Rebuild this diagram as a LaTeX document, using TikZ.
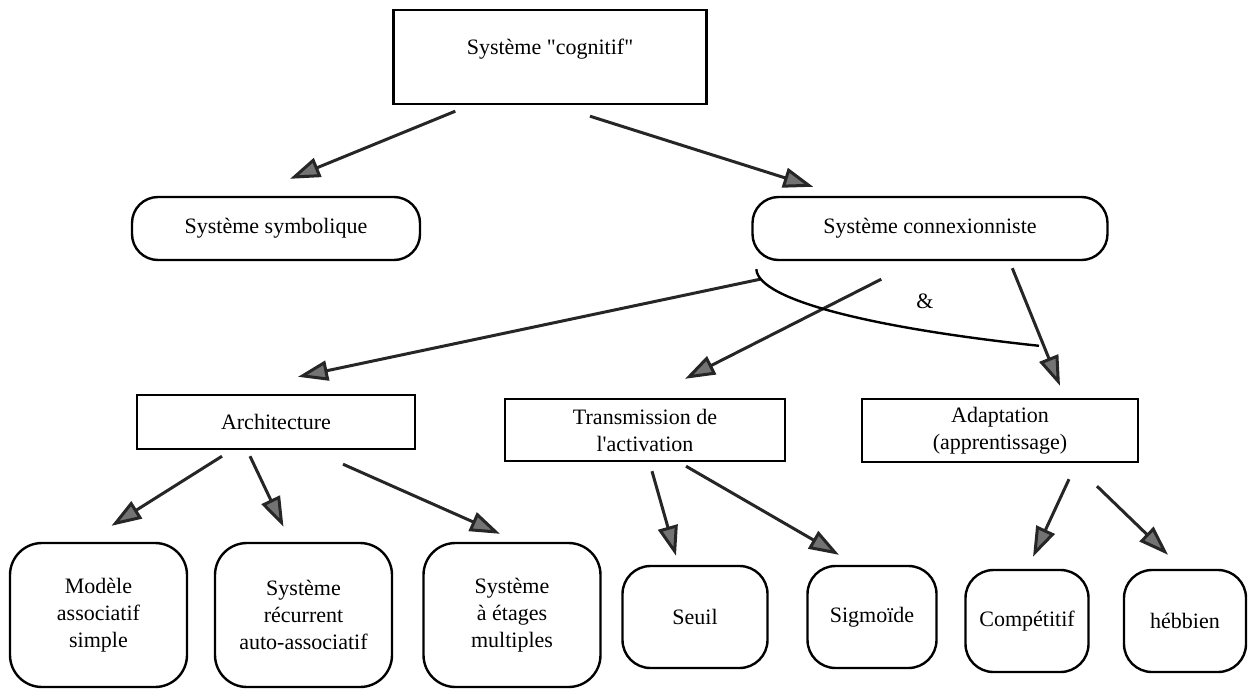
\documentclass[tikz,border=0pt]{standalone}
\usepackage{fontspec}
\setmainfont{Liberation Serif}
\usetikzlibrary{positioning,calc,arrows.meta}
\tikzset{
	box/.style={draw, line width=1.2pt, align=center, inner sep=2pt},
	roundbox/.style={box, rounded corners=13pt},
	bigbox/.style={box, rounded corners=16pt, minimum width=88.5pt, minimum height=72pt},
	leaf/.style={box, rounded corners=14pt, minimum height=51pt},
	arr/.style={line width=1.5pt, draw=black!85, -{Triangle[length=15pt,width=10pt,fill=black!55]}},
}
\begin{document}
\begin{tikzpicture}[x=0.5pt, y=-0.5pt, font=\fontsize{11}{13.5}\selectfont]
	\useasboundingbox (0,0) rectangle (1252,691);
	% niveaux
	\node[box, minimum width=156.5pt, minimum height=47pt, text depth=10pt] (cog) at (550,57) {Système \textquotedbl cognitif\textquotedbl};
	\node[roundbox, minimum width=144pt, minimum height=31.5pt] (sym) at (276,228.5) {Système symbolique};
	\node[roundbox, minimum width=177.5pt, minimum height=31.5pt] (con) at (930,228.5) {Système connexionniste};
	
	\node[box, minimum width=139pt, minimum height=27pt] (arch) at (276,422) {Architecture};
	\node[box, minimum width=140pt, minimum height=31pt] (trans) at (645,430) {Transmission de\\l\textquotesingle activation};
	\node[box, minimum width=138pt, minimum height=31.5pt] (adapt) at (1000,430.5) {Adaptation\\(apprentissage)};
	
	\node[bigbox] (mod) at (98.5,615) {Modèle\\associatif\\simple};
	\node[bigbox] (rec) at (303.5,615) {Système\\récurrent\\auto-associatif};
	\node[bigbox] (eta) at (512,615) {Système\\à étages\\multiples};
	\node[leaf, minimum width=72.5pt] (seuil) at (695,617) {Seuil};
	\node[leaf, minimum width=64.5pt] (sig) at (872,617) {Sigmoïde};
	\node[leaf, minimum width=61.5pt] (comp) at (1027,621) {Compétitif};
	\node[leaf, minimum width=61pt] (heb) at (1185,621) {hébbien};
	
	\draw[arr] ($(cog.south west)+(63,6)$) -- ($(sym.north)+(14,-17)$);
	\draw[arr] ($(cog.south)+(40,11)$) -- ($(con.north west)+(62,-9)$);
	
	\draw[arr] ($(con.south west)+(9,18)$) -- ($(arch.north)+(22,-17)$);
	\draw[arr] ($(con.south west)+(130,18)$) -- ($(trans.north)+(40,-19)$);
	\draw[arr] ($(con.south west)+(261,7)$) -- ($(adapt.north)+(60,-12)$);
	% le "&" entre les deux branches
	\coordinate (arcA) at ($(con.south west)+(5,8)$);
	\coordinate (arcB) at ($(adapt.north)+(39,-52)$);
	\draw[line width=1.2pt] (arcA) .. controls ($(arcA)+(2,32)$) and ($(arcB)+(-159,-17)$) .. (arcB);
	\node (et) at ($(con.south)+(-5,40)$) {\&};
	
	\draw[arr] ($(arch.south)+(-54,6)$) -- ($(mod.north)+(13,-16)$);
	\draw[arr] ($(arch.south)+(-26,6)$) -- ($(rec.north)+(-20,-15)$);
	\draw[arr] ($(arch.south)+(67,14)$) -- ($(eta.north)+(-12,-8)$);
	
	\draw[arr] ($(trans.south)+(7,9)$) -- ($(seuil.north)+(-19,-9)$);
	\draw[arr] ($(trans.south)+(41,4)$) -- ($(sig.north)+(-33,-10)$);
	
	\draw[arr] ($(adapt.south)+(69,16)$) -- ($(comp.north)+(6,-12)$);
	\draw[arr] ($(adapt.south)+(97,23)$) -- ($(heb.north)+(-17,-14)$);
\end{tikzpicture}
\end{document}
